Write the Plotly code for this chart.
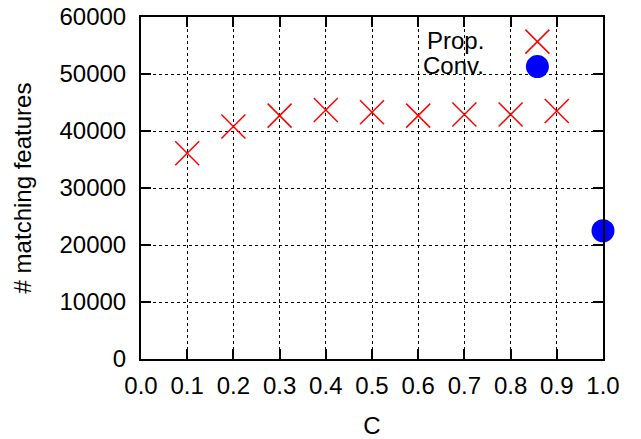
import plotly.graph_objects as go

c_prop = [0.1, 0.2, 0.3, 0.4, 0.5, 0.6, 0.7, 0.8, 0.9]
n_prop = [36100, 40800, 42700, 43700, 43300, 42700, 42900, 42900, 43500]
c_conv = [1.0]
n_conv = [22500]
x_ticks = [0.0, 0.1, 0.2, 0.3, 0.4, 0.5, 0.6, 0.7, 0.8, 0.9, 1.0]
y_ticks = [0, 10000, 20000, 30000, 40000, 50000, 60000]

FONT = "Liberation Sans, Arial, Helvetica, sans-serif"
FS = 24
fig = go.Figure()
fig.add_trace(go.Scatter(x=c_prop, y=n_prop, mode="markers", name="Prop.",
                         marker=dict(symbol="x-thin-open", size=24, color="red",
                                     line=dict(color="red", width=1.5)),
                         cliponaxis=False, showlegend=False))
fig.add_trace(go.Scatter(x=c_conv, y=n_conv, mode="markers", name="Conv.",
                         marker=dict(symbol="circle", size=23, color="blue"),
                         cliponaxis=False, showlegend=False))
# legend keys (text left, symbol right, gnuplot style)
fig.add_trace(go.Scatter(x=[0.858], y=[0.928], xaxis="x2", yaxis="y2", mode="markers",
                         marker=dict(symbol="x-thin-open", size=24, color="red",
                                     line=dict(color="red", width=1.5)),
                         cliponaxis=False, showlegend=False, hoverinfo="skip"))
fig.add_trace(go.Scatter(x=[0.858], y=[0.855], xaxis="x2", yaxis="y2", mode="markers",
                         marker=dict(symbol="circle", size=23, color="blue"),
                         cliponaxis=False, showlegend=False, hoverinfo="skip"))

axis_common = dict(showline=True, linecolor="black", linewidth=2, mirror="ticks",
                   ticks="inside", ticklen=10, tickwidth=2, tickcolor="black",
                   showgrid=True, gridcolor="black", gridwidth=1, griddash="dot",
                   zeroline=False, automargin=False,
                   tickfont=dict(family=FONT, size=FS, color="black"))

fig.update_layout(
    width=641, height=439,
    margin=dict(l=141, r=38, t=17, b=80),
    paper_bgcolor="white", plot_bgcolor="white",
    font=dict(family=FONT, size=FS, color="black"),
    xaxis=dict(range=[0, 1], tickvals=x_ticks, ticktext=[f"{v:.1f}" for v in x_ticks],
               ticklabelstandoff=4,
               title=dict(text="C", font=dict(family=FONT, size=FS), standoff=19),
               **axis_common),
    yaxis=dict(range=[0, 60000], tickvals=y_ticks, ticktext=[str(v) for v in y_ticks],
               ticklabelstandoff=8,
               title=dict(text="# matching features", font=dict(family=FONT, size=FS), standoff=21),
               **axis_common),
    xaxis2=dict(overlaying="x", range=[0, 1], visible=False),
    yaxis2=dict(overlaying="y", range=[0, 1], visible=False),
    annotations=[
        dict(x=0.7457, y=0.928, xref="paper", yref="paper", text="Prop.", showarrow=False,
             xanchor="right", yanchor="middle", yshift=1,
             font=dict(family=FONT, size=FS, color="black")),
        dict(x=0.7457, y=0.855, xref="paper", yref="paper", text="Conv.", showarrow=False,
             xanchor="right", yanchor="middle", yshift=1,
             font=dict(family=FONT, size=FS, color="black")),
    ],
)
fig.write_html("out.html")
